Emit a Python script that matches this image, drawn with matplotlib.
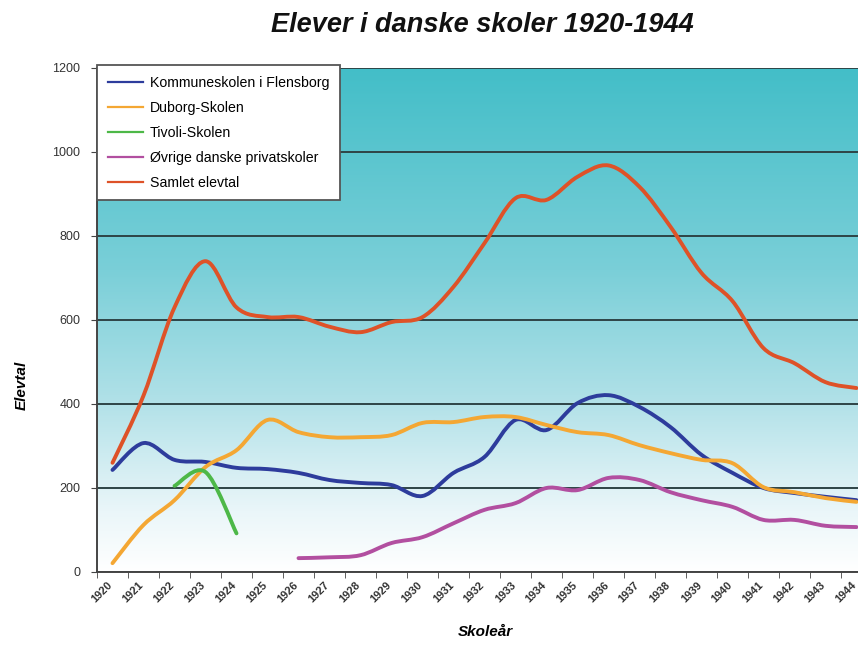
import numpy as np
import matplotlib
matplotlib.use("Agg")
import matplotlib.pyplot as plt
import matplotlib.transforms as mtransforms
from matplotlib.path import Path
from matplotlib.patches import PathPatch
from matplotlib.lines import Line2D
from matplotlib.colors import LinearSegmentedColormap

years = [str(y) for y in range(1920, 1945)]

kommuneskolen = [243, 307, 267, 262, 248, 245, 236, 219, 212, 207, 181, 236, 274, 362, 338,
                 402, 421, 393, 345, 279, 236, 200, 188, 179, 171]
duborg = [21, 112, 171, 250, 290, 362, 333, 321, 321, 326, 355, 357, 369, 369, 350,
          333, 326, 302, 283, 267, 259, 202, 190, 176, 167]
tivoli_years = ["1922", "1923", "1924"]
tivoli = [205, 238, 92]
ovrige_years = [str(y) for y in range(1926, 1945)]
ovrige = [33, 35, 40, 69, 83, 116, 148, 164, 200, 195, 224, 219, 190, 171, 155, 124, 124, 110, 107]
samlet = [260, 420, 630, 740, 630, 607, 607, 584, 571, 595, 607, 679, 783, 890, 886,
          941, 968, 917, 822, 712, 645, 533, 497, 452, 438]

series = [
    ("Kommuneskolen i Flensborg", years, kommuneskolen, "#2d3c9c"),
    ("Duborg-Skolen", years, duborg, "#f4a733"),
    ("Tivoli-Skolen", tivoli_years, tivoli, "#4db848"),
    ("Øvrige danske privatskoler", ovrige_years, ovrige, "#b24fa0"),
    ("Samlet elevtal", years, samlet, "#de5228"),
]

FONT = ["Liberation Sans", "DejaVu Sans"]
plt.rcParams["font.family"] = FONT

fig = plt.figure(figsize=(8.58, 6.51), dpi=100)
fig.patch.set_facecolor("white")
ax = fig.add_axes([97 / 858, (651 - 572) / 651, 775 / 858, 504 / 651])

# gradient background
cmap = LinearSegmentedColormap.from_list(
    "bg", [(0.0, "#ffffff"), (0.12, "#eaf6f9"), (0.35, "#aee0e7"), (0.6, "#7acfd8"), (1.0, "#43bec8")])
grad = np.linspace(0, 1, 256).reshape(-1, 1)
ax.imshow(grad, aspect="auto", cmap=cmap, origin="lower",
          extent=[0, 1, 0, 1], transform=ax.transAxes, zorder=0)

idx = {y: i for i, y in enumerate(years)}


def smooth_path(xs, ys):
    pts = np.column_stack([xs, ys]).astype(float)
    n = len(pts)
    verts = [pts[0]]
    codes = [Path.MOVETO]
    for i in range(n - 1):
        p0 = pts[i - 1] if i > 0 else pts[i]
        p1 = pts[i]
        p2 = pts[i + 1]
        p3 = pts[i + 2] if i + 2 < n else pts[i + 1]
        c1 = p1 + (p2 - p0) / 6.0
        c2 = p2 - (p3 - p1) / 6.0
        verts += [c1, c2, p2]
        codes += [Path.CURVE4] * 3
    return Path(verts, codes)


handles = []
for label, yrs, vals, color in series:
    xs = [idx[y] for y in yrs]
    patch = PathPatch(smooth_path(xs, vals), facecolor="none", edgecolor=color,
                      lw=2.8, zorder=3, capstyle="round", joinstyle="round")
    ax.add_patch(patch)
    handles.append(Line2D([], [], color=color, lw=1.6))

ax.set_xlim(-0.5, 24.5)
ax.set_ylim(0, 1200)
ax.set_yticks(range(0, 1201, 200))
ax.yaxis.grid(True, color="#2e4446", lw=1.4, zorder=1)
for gl in ax.get_ygridlines():
    gl.set_zorder(1)

ax.set_xticks(range(len(years)))
ax.set_xticklabels(years, rotation=45, ha="right", rotation_mode="anchor",
                   fontsize=8, fontweight="bold", color="#333333")
ax.tick_params(axis="x", which="major", length=0, pad=6)
shift = mtransforms.ScaledTranslation(-5 / 100, 0, fig.dpi_scale_trans)
for lbl in ax.get_xticklabels():
    lbl.set_transform(lbl.get_transform() + shift)
ax.set_xticks(np.arange(-0.5, 24.5, 1), minor=True)
ax.tick_params(axis="x", which="minor", length=4, color="#444444", direction="out")
ax.tick_params(axis="y", length=4, color="#444444", labelsize=9, labelcolor="#333333", pad=8)

for s in ["top", "right"]:
    ax.spines[s].set_visible(False)
for s in ["left", "bottom"]:
    ax.spines[s].set_color("#444444")
    ax.spines[s].set_linewidth(1.4)
    ax.spines[s].set_zorder(4)

ax.set_ylabel("Elevtal", fontsize=11, fontweight="bold", fontstyle="italic")
ax.yaxis.set_label_coords(-0.088, 0.37)
ax.set_xlabel("Skoleår", fontsize=11, fontweight="bold", fontstyle="italic")
ax.xaxis.set_label_coords((485 - 97) / 775, -0.105)

fig.text(482 / 858, 1 - 25 / 651, "Elever i danske skoler 1920-1944", ha="center", va="center",
         fontsize=19.5, fontweight="bold", fontstyle="italic", color="#111111")

leg = ax.legend(handles, [s[0] for s in series], loc="upper left",
                bbox_to_anchor=(0.0, 1.006), borderaxespad=0, fontsize=10.2,
                fancybox=False, framealpha=1, edgecolor="#555555",
                handlelength=2.5, handletextpad=0.5, labelspacing=0.78, borderpad=0.75)
leg.get_frame().set_linewidth(1.3)
leg.set_zorder(5)

fig.savefig("out.png", dpi=100)
